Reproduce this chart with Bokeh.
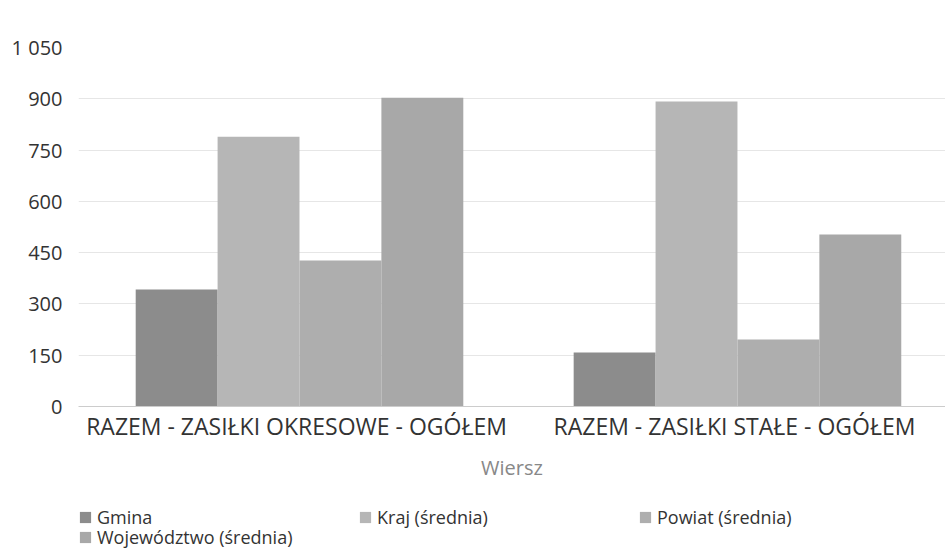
from bokeh.plotting import figure
from bokeh.layouts import column
from bokeh.models import ColumnDataSource, Range1d, FixedTicker, Legend, LegendItem
from bokeh.embed import file_html
from bokeh.resources import INLINE

categories = ["RAZEM -  ZASIŁKI OKRESOWE - OGÓŁEM", "RAZEM -  ZASIŁKI STAŁE - OGÓŁEM"]
series_names = ["Gmina", "Kraj (średnia)", "Powiat (średnia)", "Województwo (średnia)"]
gmina = [342, 158]
kraj = [789, 892]
powiat = [427, 196]
wojewodztwo = [903, 503]
y_ticks = [0, 150, 300, 450, 600, 750, 900, 1050]
y_tick_labels = ["0", "150", "300", "450", "600", "750", "900", "1 050"]
x_title = "Wiersz"

colors = ["#8c8c8c", "#b6b6b6", "#aeaeae", "#a8a8a8"]
series_values = [gmina, kraj, powiat, wojewodztwo]

FONT = "Open Sans"

p = figure(width=945, height=500, output_backend="svg", toolbar_location=None,
           x_range=Range1d(-0.0046, 1.975), y_range=Range1d(0, 1050),
           min_border_left=78, min_border_right=0, min_border_top=47, min_border_bottom=94)
p.outline_line_color = None
p.background_fill_color = "white"
p.border_fill_color = "white"

bar_w = 0.187
offsets = [-1.5 * bar_w, -0.5 * bar_w, 0.5 * bar_w, 1.5 * bar_w]
centers = [i + 0.5 for i in range(len(categories))]

for name, vals, col, off in zip(series_names, series_values, colors, offsets):
    src = ColumnDataSource(dict(x=[c + off for c in centers], top=vals))
    p.vbar(x="x", top="top", bottom=0, width=bar_w, source=src,
           fill_color=col, line_color=None)

# axes
p.xaxis.ticker = FixedTicker(ticks=centers)
p.xaxis.major_label_overrides = {c: lab for c, lab in zip(centers, categories)}
p.xaxis.axis_label = x_title
p.xaxis.axis_label_text_font = FONT
p.xaxis.axis_label_text_font_style = "normal"
p.xaxis.axis_label_text_font_size = "20px"
p.xaxis.axis_label_text_color = "#888888"
p.xaxis.axis_label_standoff = 9
p.xaxis.major_label_text_font = FONT
p.xaxis.major_label_text_font_size = "23px"
p.xaxis.major_label_text_color = "#333333"
p.xaxis.major_label_standoff = 3
p.xaxis.major_tick_out = 0
p.xaxis.major_tick_in = 0
p.xaxis.axis_line_color = "#cccccc"
p.xaxis.major_tick_line_color = None
p.xaxis.minor_tick_line_color = None

p.yaxis.ticker = FixedTicker(ticks=y_ticks)
p.yaxis.major_label_overrides = {t: lab for t, lab in zip(y_ticks, y_tick_labels)}
p.yaxis.major_label_text_font = FONT
p.yaxis.major_label_text_font_size = "20px"
p.yaxis.major_label_text_color = "#333333"
p.yaxis.major_label_standoff = 16
p.yaxis.major_tick_out = 0
p.yaxis.major_tick_in = 0
p.yaxis.axis_line_color = None
p.yaxis.major_tick_line_color = None
p.yaxis.minor_tick_line_color = None

p.xgrid.grid_line_color = None
p.ygrid.grid_line_color = "#e6e6e6"

# legend in a separate strip below the chart
lg = figure(width=945, height=48, output_backend="svg", toolbar_location=None,
            x_axis_type=None, y_axis_type=None, x_range=Range1d(0, 1), y_range=Range1d(0, 1),
            min_border_left=0, min_border_right=0, min_border_top=0, min_border_bottom=0)
lg.outline_line_color = None
lg.xgrid.grid_line_color = None
lg.ygrid.grid_line_color = None
items = []
for name, vals, col in zip(series_names, series_values, colors):
    # legend swatch renderers: zero-height bars, nothing visible in the strip
    r = lg.vbar(x=[0.5] * len(vals), top=[0] * len(vals), bottom=[0] * len(vals),
                width=0.0, fill_color=col, line_color=None)
    items.append(LegendItem(label=name, renderers=[r]))

common = dict(orientation="horizontal",
              label_text_font=FONT, label_text_font_size="18px", label_text_color="#333333",
              glyph_width=14, glyph_height=14, label_standoff=5, label_width=261,
              label_height=18, spacing=0, padding=0, margin=0,
              border_line_color=None, background_fill_alpha=0)
legend_row1 = Legend(items=items[:3], location=(0, 19), **common)
legend_row2 = Legend(items=items[3:], location=(0, -1), **common)
lg.add_layout(legend_row1, "center")
lg.add_layout(legend_row2, "center")

layout = column(p, lg, spacing=0)
open("out.html", "w").write(file_html(layout, INLINE))
